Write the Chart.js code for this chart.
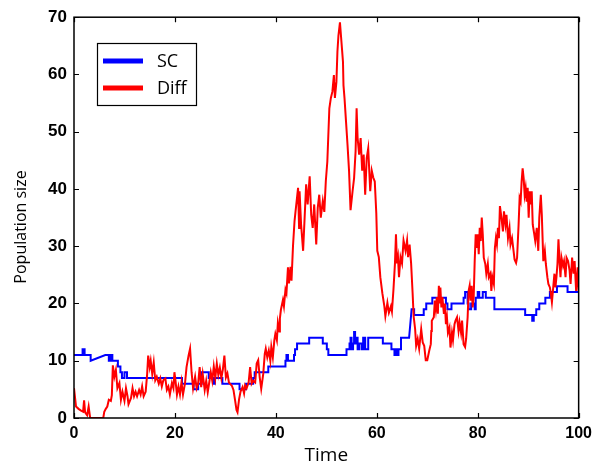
<!DOCTYPE html>
<html>
<head>
<meta charset="utf-8">
<script src="https://cdn.jsdelivr.net/npm/chart.js@4.4.1/dist/chart.umd.min.js"></script>
<style>
html,body{margin:0;padding:0;background:#fff;}
#c{display:block;}
</style>
</head>
<body>
<canvas id="c" width="598" height="464"></canvas>
<script>
// ---- data ----
const seriesNames = ["SC", "Diff"];
const xTickValues = [0, 20, 40, 60, 80, 100];
const yTickValues = [0, 10, 20, 30, 40, 50, 60, 70];
const xTitle = "Time";
const yTitle = "Population size";

// SC: polyline vertices (time, population)
const scT = [0,1.7,1.7,2.1,2.1,3.3,3.3,6.2,6.9,6.9,7.3,7.3,7.6,7.6,8.7,8.7,9.2,9.2,9.5,9.5,10.0,10.0,10.5,10.5,21.4,21.4,23.7,23.7,24.6,24.6,25.3,25.3,26.7,26.7,27.7,27.7,27.9,27.9,29.4,29.4,32.8,32.8,34.1,34.1,35.5,35.5,35.8,35.8,38.5,38.5,41.9,41.9,42.1,42.1,42.4,42.4,43.6,43.6,43.8,43.8,44.2,44.2,46.6,46.6,49.3,49.3,50.1,50.1,50.4,50.4,54.0,54.0,54.6,54.6,54.8,54.8,55.0,55.0,55.3,55.3,55.5,55.5,55.7,55.7,55.9,55.9,56.2,56.2,56.5,56.5,57.0,57.0,57.3,57.3,57.7,57.7,58.3,58.3,61.2,61.2,62.9,62.9,63.5,63.5,63.7,63.7,64.0,64.0,64.3,64.3,64.8,64.8,66.4,66.9,67.4,67.4,69.3,69.3,69.8,69.8,71.0,71.0,73.7,73.7,74.0,74.0,74.8,74.8,77.2,77.2,77.5,77.5,78.0,78.0,78.2,78.2,78.7,78.7,79.4,79.4,79.6,79.6,80.0,80.0,80.3,80.3,81.0,81.0,81.6,81.6,83.3,83.3,89.4,89.4,90.8,90.8,91.1,91.1,91.6,91.6,92.2,92.2,93.4,93.4,94.3,94.3,95.7,95.7,97.8,97.8,100];
const scV = [11,11,12,12,11,11,10,11,11,10,10,11,11,10,10,9,9,8,8,7,7,8,8,7,7,6,6,5,5,6,6,8,8,7,7,6,6,7,7,6,6,5,5,6,6,7,7,8,8,9,9,10,10,11,11,10,10,11,11,12,12,13,13,14,14,13,13,12,12,11,11,12,12,13,13,14,14,12,12,13,13,15,15,13,13,14,14,12,12,13,13,12,12,14,14,12,12,14,14,13,13,12,12,11,11,12,12,11,11,12,12,14,14,19,19,18,18,19,19,20,20,21,21,20,20,19,19,20,20,21,21,22,22,20,20,19,19,20,20,19,19,21,21,22,22,21,21,22,22,21,21,19,19,18,18,17,17,18,18,19,19,20,20,21,21,22,22,23,23,22,22];

// Diff: sampled path (time, population)
const diffT = [0.0,0.4,0.9,1.4,1.8,2.0,2.2,2.6,2.9,3.2,5.8,6.0,6.3,6.6,6.9,7.3,7.5,7.7,8.0,8.3,8.6,9.0,9.3,9.6,10.0,10.3,10.6,10.8,11.3,11.6,11.9,12.2,12.5,12.9,13.2,13.5,13.8,14.2,14.5,14.7,15.0,15.2,15.5,15.8,16.1,16.4,16.8,17.1,17.4,17.7,18.1,18.4,18.7,19.0,19.4,19.7,19.9,20.1,20.4,20.7,21.0,21.3,21.6,22.0,22.3,22.7,23.0,23.3,23.6,24.0,24.3,24.6,24.9,25.2,25.5,25.9,26.2,26.5,26.8,27.1,27.4,27.7,28.0,28.3,28.6,28.9,29.2,29.5,29.8,30.1,30.4,30.7,30.9,31.3,31.6,31.9,32.2,32.4,32.7,33.0,33.4,33.7,33.9,34.2,34.6,34.9,35.2,35.5,35.9,36.2,36.5,36.8,37.1,37.5,37.8,38.0,38.3,38.6,38.9,39.1,39.4,39.7,39.9,40.2,40.4,40.7,40.8,41.0,41.4,41.6,41.9,42.1,42.4,42.6,42.9,43.1,43.4,43.7,43.9,44.05,44.4,44.6,44.7,45.0,45.4,45.7,46.0,46.3,46.7,47.0,47.3,47.6,48.0,48.3,48.6,48.9,49.3,49.6,49.9,50.2,50.6,50.9,51.2,51.5,51.7,52.0,52.2,52.4,52.7,52.9,53.1,53.3,53.4,53.6,53.9,54.2,54.5,54.8,55.2,55.5,55.8,56.0,56.2,56.5,56.8,57.1,57.4,57.7,58.0,58.3,58.7,59.0,59.3,59.6,59.9,60.1,60.4,60.7,61.1,61.5,61.7,62.1,62.4,62.8,63.0,63.3,63.6,63.8,64.0,64.2,64.4,64.7,65.0,65.3,65.7,66.0,66.2,66.5,66.8,67.1,67.3,67.6,67.8,68.1,68.4,68.8,69.1,69.4,69.7,70.0,70.4,70.7,70.8,70.9,71.3,71.5,71.7,71.9,72.1,72.3,72.5,72.6,72.8,73.0,73.3,73.5,73.7,73.9,74.1,74.4,74.6,74.9,75.1,75.4,75.6,75.9,76.2,76.4,76.7,76.9,77.2,77.5,77.7,78.0,78.2,78.4,78.6,78.8,79.0,79.2,79.4,79.6,79.8,80.0,80.2,80.4,80.6,80.8,81.0,81.2,81.5,81.7,82.0,82.2,82.5,82.7,82.9,83.2,83.4,83.6,83.8,84.0,84.2,84.4,84.7,85.0,85.2,85.5,85.7,86.0,86.3,86.5,86.8,87.1,87.3,87.6,87.8,88.1,88.3,88.5,88.7,88.9,89.1,89.3,89.5,89.7,89.9,90.1,90.3,90.5,90.7,90.9,91.2,91.4,91.7,92.0,92.2,92.5,92.7,93.0,93.3,93.5,93.8,94.0,94.3,94.5,94.7,94.9,95.2,95.4,95.6,95.8,96.0,96.2,96.4,96.6,96.9,97.1,97.4,97.6,97.9,98.2,98.4,98.7,99.0,99.2,99.5,99.8,100.0];
const diffV = [5.2,2.0,1.6,1.3,1.1,3.1,1.0,0.5,2.0,0.0,0.0,1.1,1.6,2.0,3.2,3.0,4.0,9.2,7.2,8.4,5.2,6.1,3.2,4.6,3.0,5.2,3.8,2.4,3.5,5.2,3.8,4.6,3.8,4.9,4.1,5.5,3.8,4.6,7.7,10.9,8.9,10.0,7.7,9.7,6.6,7.2,6.0,6.9,5.5,6.6,6.9,4.9,5.5,4.1,6.1,5.2,8.0,6.6,4.1,5.5,4.1,6.3,4.1,6.1,8.9,10.9,12.1,8.0,5.2,7.2,5.2,6.0,8.9,5.4,7.7,4.9,6.5,4.5,6.2,8.0,6.5,9.0,7.0,9.5,7.5,8.8,7.0,8.5,10.9,7.1,7.8,6.2,6.0,5.6,4.9,3.2,1.4,1.0,3.2,4.6,5.4,4.3,5.7,5.2,6.2,8.9,6.0,6.5,6.2,9.5,10.1,7.1,5.1,7.7,11.2,12.1,10.6,11.8,10.0,12.4,10.6,13.6,14.7,13.6,16.6,15.1,17.4,18.9,20.6,19.5,22.4,21.8,26.3,23.5,26.4,24.0,30.1,34.4,36.1,37.3,40.2,33.2,39.6,33.8,29.2,35.0,40.8,37.3,42.2,35.5,33.2,37.3,30.3,36.7,39.0,35.0,37.9,36.0,41.4,44.8,54.1,55.9,57.0,59.9,55.9,58.7,64.0,66.8,69.1,66.8,64.5,62.2,58.1,55.9,51.8,47.7,43.2,36.3,39.6,41.9,46.6,54.1,48.9,46.0,48.9,43.2,46.0,39.0,45.4,47.1,39.6,43.2,42.0,41.3,35.8,29.2,28.1,24.6,21.8,19.5,17.8,20.1,18.4,19.5,18.6,22.4,27.0,32.1,27.0,28.1,24.6,28.1,27.0,31.0,29.2,31.0,28.1,30.3,27.0,21.8,17.8,15.5,12.6,13.8,12.1,15.5,13.2,12.6,10.1,10.1,11.8,12.9,15.2,17.0,17.6,20.5,19.0,21.1,18.2,23.1,20.0,22.8,19.3,21.1,18.2,20.0,16.4,17.6,14.9,15.8,12.3,14.9,13.6,16.4,17.0,17.6,15.2,16.7,14.9,17.0,12.9,12.4,13.8,17.6,22.2,23.1,20.5,23.1,19.3,21.1,27.4,32.1,29.7,32.1,28.6,33.2,30.9,35.0,32.1,28.0,26.9,25.2,26.9,24.6,25.2,22.2,24.6,23.4,29.7,31.4,30.3,33.2,31.4,37.0,35.0,32.6,36.1,33.8,35.5,31.4,33.2,30.3,31.4,29.2,27.7,27.1,28.0,33.8,38.4,37.8,41.3,43.6,41.9,39.0,40.2,37.8,40.2,35.0,39.6,37.3,39.6,33.8,32.1,30.9,33.2,29.2,35.0,39.0,35.5,27.4,29.2,26.9,24.6,23.4,22.8,21.7,20.2,22.2,25.2,22.8,24.6,26.9,31.2,27.4,24.6,28.0,26.6,27.4,24.6,28.0,27.4,25.8,23.4,28.0,25.2,27.4,22.2,26.3,22.2];

// ---- build chart ----
const toPts = (t, v) => t.map((x, i) => ({x: x, y: v[i]}));
const colors = {SC: "#0000ff", Diff: "#ff0000"};

const frame = {
  id: "matlabFrame",
  afterDraw(chart) {
    const ctx = chart.ctx;
    const a = chart.chartArea;
    const xs = chart.scales.x, ys = chart.scales.y;
    ctx.save();
    ctx.strokeStyle = "#000";
    ctx.lineWidth = 1.5;
    ctx.strokeRect(a.left, a.top, a.right - a.left, a.bottom - a.top);
    ctx.lineWidth = 1.2;
    ctx.beginPath();
    xTickValues.forEach(v => {
      const p = Math.round(xs.getPixelForValue(v)) + 0.5;
      ctx.moveTo(p, a.bottom); ctx.lineTo(p, a.bottom - 5);
      ctx.moveTo(p, a.top); ctx.lineTo(p, a.top + 5);
    });
    yTickValues.forEach(v => {
      const p = Math.round(ys.getPixelForValue(v)) + 0.5;
      ctx.moveTo(a.left, p); ctx.lineTo(a.left + 5, p);
      ctx.moveTo(a.right, p); ctx.lineTo(a.right - 5, p);
    });
    ctx.stroke();

    // axis titles
    ctx.fillStyle = "#000";
    ctx.font = "19px 'Open Sans'";
    ctx.textAlign = "center";
    ctx.textBaseline = "alphabetic";
    ctx.fillText(xTitle, (a.left + a.right) / 2, 461);
    ctx.save();
    ctx.translate(26, 227);
    ctx.rotate(-Math.PI / 2);
    ctx.font = "16px 'Open Sans'";
    ctx.fillText(yTitle, 0, 0);
    ctx.restore();

    // legend
    const lx = 97, ly = 43, lw = 99, lh = 62;
    ctx.fillStyle = "#fff";
    ctx.fillRect(lx, ly, lw, lh);
    ctx.strokeStyle = "#000";
    ctx.lineWidth = 1.2;
    ctx.strokeRect(lx + 0.5, ly + 0.5, lw, lh);
    ctx.font = "18px 'Open Sans'";
    ctx.textAlign = "left";
    ctx.textBaseline = "middle";
    chart.data.datasets.forEach((ds, i) => {
      const yy = ly + 18 + i * 27;
      ctx.strokeStyle = ds.borderColor;
      ctx.lineWidth = 5;
      ctx.beginPath();
      ctx.moveTo(lx + 6, yy); ctx.lineTo(lx + 46, yy);
      ctx.stroke();
      ctx.fillStyle = "#000";
      ctx.fillText(ds.label, lx + 60, yy + 1);
    });
    ctx.restore();
  }
};

new Chart(document.getElementById("c"), {
  type: "line",
  data: {
    datasets: [
      {label: seriesNames[0], data: toPts(scT, scV), borderColor: colors.SC, borderWidth: 2, pointRadius: 0, tension: 0, order: 2},
      {label: seriesNames[1], data: toPts(diffT, diffV), borderColor: colors.Diff, borderWidth: 2, pointRadius: 0, tension: 0, order: 1}
    ]
  },
  options: {
    responsive: false,
    animation: false,
    layout: {padding: {top: 16, right: 13, left: 0, bottom: 0}},
    plugins: {legend: {display: false}, tooltip: {enabled: false}, title: {display: false}},
    scales: {
      x: {
        type: "linear", min: 0, max: 100,
        afterFit(s) { s.height = 46; },
        afterBuildTicks(s) { s.ticks = xTickValues.map(v => ({value: v})); },
        grid: {display: false, drawTicks: false},
        border: {display: false},
        ticks: {color: "#000", padding: 6, font: {family: "'Liberation Sans', Arial", size: 16, weight: "bold"}, maxRotation: 0}
      },
      y: {
        type: "linear", min: 0, max: 70,
        afterFit(s) { s.width = 74; },
        afterBuildTicks(s) { s.ticks = yTickValues.map(v => ({value: v})); },
        grid: {display: false, drawTicks: false},
        border: {display: false},
        ticks: {color: "#000", padding: 7, font: {family: "'Liberation Sans', Arial", size: 17, weight: "bold"}}
      }
    }
  },
  plugins: [frame]
});
</script>
</body>
</html>
